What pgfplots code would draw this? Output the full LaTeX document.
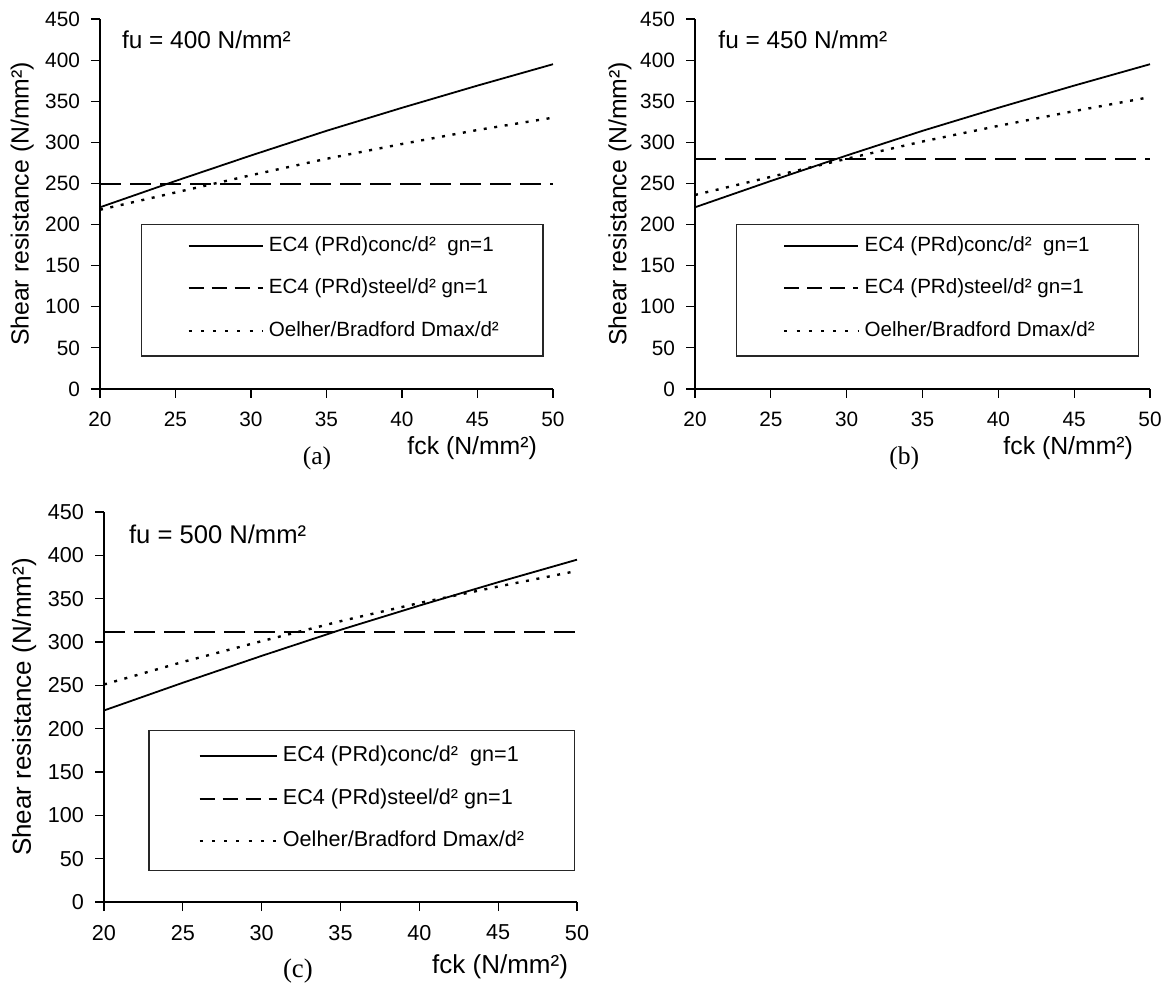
\documentclass[border=0pt]{standalone}
\usepackage{fontspec}
\setmainfont{Liberation Sans}
\newfontfamily\capfont{Liberation Serif}
\usepackage{pgfplots}
\pgfplotsset{compat=1.18}

\pgfplotstableread{
fck  conc  oelA  oelB  oelC
20   221   218   236   251
25   253   239   258   277
30   284   260   280   301
35   314   280   301   324
40   342   298   320   345
45   369   315   338   364
50   395   330   355   382
}\datatable

\pgfplotsset{
  panel/.style={
    scale only axis,
    clip=false,
    xmin=20, xmax=50, ymin=0, ymax=450,
    axis x line*=bottom, axis y line*=left,
    axis line style={-, line width=0.6pt, black},
    xtick={20,25,30,35,40,45,50},
    ytick={0,50,100,150,200,250,300,350,400,450},
    tick align=outside,
    major tick length=4.5pt,
    tick style={line width=0.6pt, black},
    /pgf/number format/assume math mode=true,
    ticklabel style={font=\fontsize{10.4}{12}\selectfont},
    xticklabel style={yshift=-3.5pt},
    yticklabel style={xshift=-2pt},
    ylabel={Shear resistance (N/mm²)},
    ylabel style={font=\fontsize{12.4}{14}\selectfont, anchor=center},
    xlabel={fck (N/mm²)},
    xlabel style={font=\fontsize{12.4}{14}\selectfont, at={(axis description cs:1,0)}, anchor=east},
    legend style={draw=none, fill=none, inner sep=0pt, row sep=11.5pt, column sep=2.5pt,
      font=\fontsize{10.3}{12}\selectfont,
      nodes={inner sep=0pt, text height=7.6pt, text depth=2.2pt}},
    legend cell align=left,
    legend image code/.code={\draw[#1] (0pt,0pt) -- (37pt,0pt);},
  },
  conc/.style={black, line width=0.9pt},
  steel/.style={black, line width=0.9pt, dash pattern=on 10.5pt off 4.5pt,
    legend image post style={dash pattern=on 7.5pt off 4pt}},
  oel/.style={black, line width=1.2pt, dash pattern=on 1.5pt off 3.8pt,
    legend image post style={dash pattern=on 1.5pt off 4.6pt}},
}

\begin{document}
\begin{tikzpicture}
\useasboundingbox (0,0) rectangle (583pt,492.5pt);

% ---------- (a) ----------
\begin{axis}[panel, at={(50pt,298pt)}, anchor=south west, width=226.5pt, height=185pt,
  ylabel style={at={(axis description cs:-0.172,0.5)}},
  xlabel style={xshift=-4.5pt, yshift=-29.5pt},
  legend style={at={(0.192,0.272)}, anchor=west}]
\addplot[conc] table[x=fck, y=conc] {\datatable};
\addlegendentry{EC4 (PRd)conc/d²~~gn=1}
\addplot[steel] coordinates {(20,249) (50,249)};
\addlegendentry{EC4 (PRd)steel/d² gn=1}
\addplot[oel] table[x=fck, y=oelA] {\datatable};
\addlegendentry{Oelher/Bradford Dmax/d²}
\draw[line width=0.6pt, black!85] (rel axis cs:0.091,0.089) rectangle (rel axis cs:0.978,0.445);
\node[anchor=west, font=\fontsize{12.2}{14}\selectfont] at (rel axis cs:0,1) [xshift=7.5pt, yshift=-10.5pt] {fu = 400 N/mm²};
\node[font=\capfont\fontsize{12.8}{14}\selectfont] at (rel axis cs:0.479,0) [yshift=-34.5pt] {(a)};
\end{axis}

% ---------- (b) ----------
\begin{axis}[panel, at={(347.5pt,298pt)}, anchor=south west, width=227.5pt, height=185pt,
  ylabel style={at={(axis description cs:-0.165,0.5)}},
  xlabel style={xshift=-5pt, yshift=-29.5pt},
  legend style={at={(0.193,0.272)}, anchor=west}]
\addplot[conc] table[x=fck, y=conc] {\datatable};
\addlegendentry{EC4 (PRd)conc/d²~~gn=1}
\addplot[steel] coordinates {(20,280) (50,280)};
\addlegendentry{EC4 (PRd)steel/d² gn=1}
\addplot[oel] table[x=fck, y=oelB] {\datatable};
\addlegendentry{Oelher/Bradford Dmax/d²}
\draw[line width=0.6pt, black!85] (rel axis cs:0.092,0.089) rectangle (rel axis cs:0.974,0.445);
\node[anchor=west, font=\fontsize{12.2}{14}\selectfont] at (rel axis cs:0,1) [xshift=8.2pt, yshift=-10.5pt] {fu = 450 N/mm²};
\node[font=\capfont\fontsize{12.8}{14}\selectfont] at (rel axis cs:0.46,0) [yshift=-34.5pt] {(b)};
\end{axis}

% ---------- (c) ----------
\begin{axis}[panel, at={(52pt,41.5pt)}, anchor=south west, width=236.5pt, height=195pt,
  ticklabel style={font=\fontsize{10.8}{12}\selectfont},
  ylabel style={at={(axis description cs:-0.169,0.5)}, font=\fontsize{13}{15}\selectfont},
  xlabel style={xshift=-1pt, yshift=-32.5pt, font=\fontsize{13}{15}\selectfont},
  legend style={at={(0.199,0.265)}, anchor=west, font=\fontsize{10.8}{12}\selectfont},
  legend image code/.code={\draw[#1] (0pt,0pt) -- (38.5pt,0pt);}]
\addplot[conc] table[x=fck, y=conc] {\datatable};
\addlegendentry{EC4 (PRd)conc/d²~~gn=1}
\addplot[steel] coordinates {(20,312) (50,312)};
\addlegendentry{EC4 (PRd)steel/d² gn=1}
\addplot[oel] table[x=fck, y=oelC] {\datatable};
\addlegendentry{Oelher/Bradford Dmax/d²}
\draw[line width=0.6pt, black!85] (rel axis cs:0.095,0.081) rectangle (rel axis cs:0.994,0.439);
\node[anchor=west, font=\fontsize{12.8}{15}\selectfont] at (rel axis cs:0,1) [xshift=9pt, yshift=-11pt] {fu = 500 N/mm²};
\node[font=\capfont\fontsize{13.4}{15}\selectfont] at (rel axis cs:0.41,0) [yshift=-34.5pt] {(c)};
\end{axis}
\end{tikzpicture}
\end{document}
